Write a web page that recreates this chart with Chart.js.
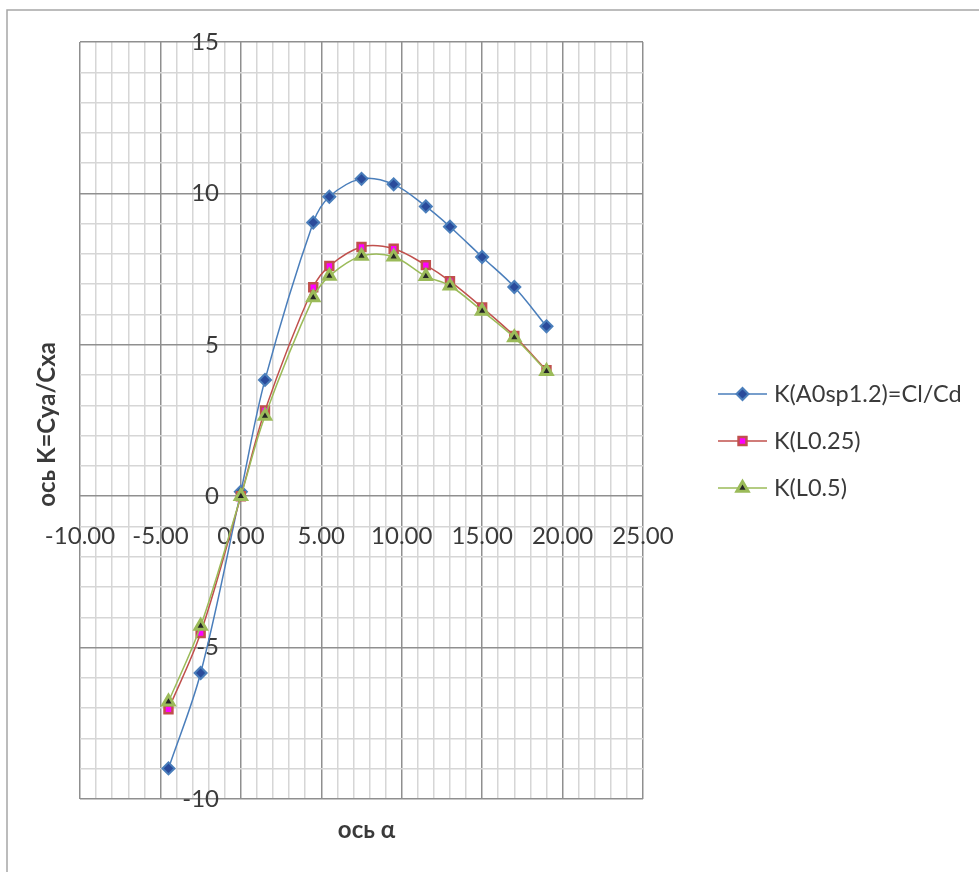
<!DOCTYPE html>
<html>
<head>
<meta charset="utf-8">
<script src="https://cdn.jsdelivr.net/npm/chart.js@4.4.1/dist/chart.umd.min.js"></script>
<style>
  html, body { margin: 0; padding: 0; background: #ffffff; }
  #wrap { width: 979px; height: 872px; }
  canvas { display: block; }
</style>
</head>
<body>
<div id="wrap"><canvas id="chart" width="979" height="872"></canvas></div>
<script>
// Angle of attack, degrees
const alphaDeg = [-4.5, -2.5, 0, 1.5, 4.5, 5.5, 7.5, 9.5, 11.5, 13, 15, 17, 19];

// Lift-to-drag ratio K for each configuration
const kA0sp12 = [-8.99, -5.84, 0.15, 3.84, 9.04, 9.89, 10.48, 10.30, 9.57, 8.90, 7.90, 6.91, 5.61];
const kL025   = [-7.04, -4.52, 0.00, 2.83, 6.90, 7.60, 8.23, 8.17, 7.63, 7.10, 6.23, 5.29, 4.16];
const kL05    = [-6.79, -4.29, 0.00, 2.65, 6.56, 7.27, 7.93, 7.91, 7.26, 6.95, 6.12, 5.24, 4.13];

const seriesNames = ['K(A0sp1.2)=Cl/Cd', 'K(L0.25)', 'K(L0.5)'];

const xTickLabels = ['-10.00', '-5.00', '0.00', '5.00', '10.00', '15.00', '20.00', '25.00'];
const yTickLabels = ['-10', '-5', '0', '5', '10', '15'];

const xTitle = 'ось α';
const yTitle = 'ось K=Cya/Cxa';

const FONT = 'Lato, "Open Sans", "DejaVu Sans", sans-serif';
const TEXT = '#3a3a3a';
const MAJOR = '#8f8f8f';
const MINOR = '#d6d6d6';

function labelFor(value, labels) {
  const hit = labels.find(l => Math.abs(parseFloat(l) - value) < 1e-9);
  return hit === undefined ? '' : hit;
}

function pts(ys) {
  return alphaDeg.map((x, i) => ({ x: x, y: ys[i] }));
}

function gridColor(ctx) {
  if (!ctx.tick) return MINOR;
  return Math.abs(ctx.tick.value % 5) < 1e-9 ? MAJOR : MINOR;
}

// Frame, axis titles and the legend entries (line + marker + name)
const decor = {
  id: 'decor',
  beforeDraw(chart) {
    const c = chart.ctx;
    c.save();
    c.fillStyle = '#ffffff';
    c.fillRect(0, 0, chart.width, chart.height);
    c.strokeStyle = '#a6a6a6';
    c.lineWidth = 1.5;
    c.beginPath();
    c.moveTo(7, chart.height + 5);
    c.lineTo(7, 10);
    c.lineTo(chart.width + 5, 10);
    c.stroke();
    c.restore();
  },
  afterDraw(chart) {
    const c = chart.ctx;
    const area = chart.chartArea;
    c.save();
    c.fillStyle = TEXT;
    c.font = 'bold 24px ' + FONT;
    c.textAlign = 'center';
    c.textBaseline = 'middle';
    c.fillText(xTitle, (area.left + area.right) / 2 + 5, area.bottom + 31);
    c.save();
    c.translate(47, (area.top + area.bottom) / 2 + 4);
    c.rotate(-Math.PI / 2);
    c.fillText(yTitle, 0, 0);
    c.restore();

    // legend
    const x0 = 718, x1 = 767, tx = 774;
    chart.data.datasets.forEach((ds, i) => {
      const y = 394 + 47 * i;
      c.strokeStyle = ds.borderColor;
      c.lineWidth = ds.borderWidth;
      c.beginPath();
      c.moveTo(x0, y);
      c.lineTo(x1, y);
      c.stroke();
      c.fillStyle = ds.pointBackgroundColor;
      c.strokeStyle = ds.borderColor;
      c.lineWidth = ds.pointBorderWidth;
      Chart.helpers.drawPoint(c, {
        pointStyle: ds.pointStyle,
        radius: ds.pointRadius,
        borderWidth: ds.pointBorderWidth,
        rotation: 0
      }, (x0 + x1) / 2, y);
      c.fillStyle = TEXT;
      c.font = '23.5px ' + FONT;
      c.textAlign = 'left';
      c.textBaseline = 'middle';
      c.fillText(ds.label, tx, y);
    });
    c.restore();
  }
};

const datasets = [
  {
    label: seriesNames[0],
    data: pts(kA0sp12),
    borderColor: '#4a7ebb',
    borderWidth: 1.5,
    pointStyle: 'rectRot',
    pointRadius: 6,
    pointBorderWidth: 2,
    pointBackgroundColor: '#2a4b9b',
    order: 2
  },
  {
    label: seriesNames[1],
    data: pts(kL025),
    borderColor: '#c0504d',
    borderWidth: 1.5,
    pointStyle: 'rect',
    pointRadius: 5.6,
    pointBorderWidth: 2.5,
    pointBackgroundColor: '#ff00ff',
    order: 1
  },
  {
    label: seriesNames[2],
    data: pts(kL05),
    borderColor: '#9bbb59',
    borderWidth: 1.5,
    pointStyle: 'triangle',
    pointRadius: 6.5,
    pointBorderWidth: 3,
    pointBackgroundColor: '#262626',
    order: 0
  }
];
datasets.forEach(d => {
  d.showLine = true;
  d.tension = 0.35;
  d.fill = false;
  d.pointHoverRadius = d.pointRadius;
});

new Chart(document.getElementById('chart'), {
  type: 'scatter',
  data: { datasets: datasets },
  plugins: [decor],
  options: {
    responsive: false,
    animation: false,
    events: [],
    layout: { padding: { left: 80, top: 42, right: 336, bottom: 73 } },
    plugins: { legend: { display: false }, tooltip: { enabled: false } },
    scales: {
      x: {
        type: 'linear',
        min: -10,
        max: 25,
        position: { y: 0 },
        border: { display: false },
        grid: { drawTicks: false, color: gridColor, lineWidth: 1.5 },
        ticks: {
          stepSize: 1,
          autoSkip: false,
          minRotation: 0,
          maxRotation: 0,
          padding: 26,
          color: TEXT,
          font: { family: FONT, size: 24 },
          callback: v => labelFor(v, xTickLabels)
        }
      },
      y: {
        type: 'linear',
        min: -10,
        max: 15,
        position: { x: -1.36 },
        border: { display: false },
        grid: { drawTicks: false, color: gridColor, lineWidth: 1.5 },
        ticks: {
          stepSize: 1,
          autoSkip: false,
          padding: 0,
          color: TEXT,
          font: { family: FONT, size: 24 },
          callback: v => labelFor(v, yTickLabels)
        }
      }
    }
  }
});
</script>
</body>
</html>
